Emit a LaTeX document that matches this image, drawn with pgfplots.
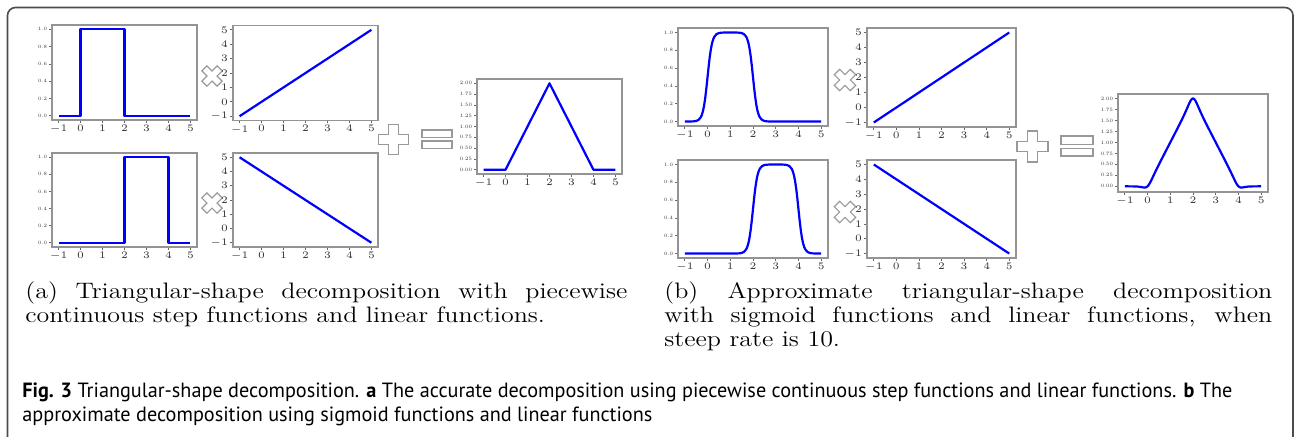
\documentclass[border=0pt]{standalone}
\usepackage{pgfplots}
\pgfplotsset{compat=1.18}
\usepackage{fontspec}
\usepackage{graphicx}
\newfontfamily\capfont{PT Sans}
\newsavebox\capA
\newsavebox\capB

\pgfplotsset{
  mini/.style={
    scale only axis, anchor=north west, no markers,
    axis line style={draw=black!42, line width=0.75pt},
    tick align=outside, xtick pos=left, ytick pos=left,
    major tick length=1.4pt,
    major tick style={draw=black!60, line width=0.35pt},
    tick label style={font=\fontsize{2.5}{3}\selectfont, text=black!80, inner sep=0.9pt},
    xmin=-1.3, xmax=5.3, xtick={-1,0,1,2,3,4,5},
  },
  stepy/.style={ymin=-0.05, ymax=1.05, ytick={0,0.2,0.4,0.6,0.8,1}, yticklabels={0.0,0.2,0.4,0.6,0.8,1.0}},
  liny/.style={ymin=-1.3, ymax=5.3, ytick={-1,0,1,2,3,4,5}},
  triy/.style={ytick={0,0.25,0.5,0.75,1,1.25,1.5,1.75,2}, yticklabels={0.00,0.25,0.50,0.75,1.00,1.25,1.50,1.75,2.00}},
}
\tikzset{
  pl/.style={blue, line width=1.1pt, line join=round},
  symb/.style={draw=black!40, line width=0.6pt, fill=white, line join=miter},
  pics/plussym/.style args={#1/#2}{code={
    \draw[symb] (#2,#1) -- (#2,#2) -- (#1,#2) -- (#1,-#2) -- (#2,-#2) -- (#2,-#1) -- (-#2,-#1) -- (-#2,-#2) -- (-#1,-#2) -- (-#1,#2) -- (-#2,#2) -- (-#2,#1) -- cycle;
  }},
}
\newcommand\subfont{\fontsize{13}{14.1}\selectfont\tolerance=10000\hbadness=10000\hyphenpenalty=10000\exhyphenpenalty=10000}

\begin{document}%
\sbox\capA{\capfont\fontsize{10.3}{12}\selectfont\textbf{Fig. 3} Triangular-shape decomposition. \textbf{a} The accurate decomposition using piecewise continuous step functions and linear functions. \textbf{b} The}%
\sbox\capB{\capfont\fontsize{10.3}{12}\selectfont approximate decomposition using sigmoid functions and linear functions}%
\pgfmathsetmacro\capfac{605/\the\wd\capA}%
\begin{tikzpicture}
\begin{scope}[x=0.5pt,y=-0.5pt]
\path[use as bounding box] (0,0) rectangle (1296,436);
\draw[black!70, line width=0.8pt, rounded corners=4pt] (7.5,437) -- (7.5,7.5) -- (1293,7.5) -- (1293,437);
% symbols panel a
\pic[rotate=45] at (212,76) {plussym=10.8/3.6};
\pic[rotate=45] at (212,203) {plussym=10.8/3.6};
\pic at (393.5,139.5) {plussym=15/4.8};
\draw[symb] (422,130) rectangle (452,137.3);
\draw[symb] (422,141) rectangle (452,148.5);
% symbols panel b
\pic[rotate=45] at (845,80) {plussym=11.3/3.8};
\pic[rotate=45] at (845,212) {plussym=11.3/3.8};
\pic at (1032.5,146.5) {plussym=15.5/5};
\draw[symb] (1061,136) rectangle (1093,144.3);
\draw[symb] (1061,148.3) rectangle (1093,156);
% subcaptions
\node[anchor=base west, inner sep=0] at (25,298) {\scalebox{1}[0.86]{\parbox[t]{301pt}{\subfont (a) Triangular-shape decomposition with piecewise\linebreak continuous step functions and linear functions.}}};
\node[anchor=base west, inner sep=0] at (664,298) {\scalebox{1}[0.86]{\parbox[t]{304pt}{\subfont (b) Approximate triangular-shape decomposition\linebreak with sigmoid functions and linear functions, when\linebreak steep rate is 10.}}};
% caption
\node[anchor=base west, inner sep=0, text=black!90] at (22,397) {\scalebox{\capfac}[1]{\usebox\capA}};
\node[anchor=base west, inner sep=0, text=black!90] at (22,421) {\scalebox{\capfac}[1]{\usebox\capB}};
\end{scope}

% ---- panel a ----
\begin{axis}[mini, stepy, at={(26pt,-12.5pt)}, width=72.5pt, height=47.5pt]
\addplot[pl] coordinates {(-1,0) (0,0) (0,1) (2,1) (2,0) (5,0)};
\end{axis}
\begin{axis}[mini, liny, at={(116.5pt,-12.75pt)}, width=72.5pt, height=47.5pt]
\addplot[pl] coordinates {(-1,-1) (5,5)};
\end{axis}
\begin{axis}[mini, stepy, at={(26pt,-76.5pt)}, width=72.5pt, height=47pt]
\addplot[pl] coordinates {(-1,0) (2,0) (2,1) (4,1) (4,0) (5,0)};
\end{axis}
\begin{axis}[mini, liny, at={(116.5pt,-76.5pt)}, width=72.5pt, height=47pt]
\addplot[pl] coordinates {(-1,5) (5,-1)};
\end{axis}
\begin{axis}[mini, triy, ymin=-0.1, ymax=2.1, at={(238.5pt,-39.5pt)}, width=72.5pt, height=47.5pt]
\addplot[pl] coordinates {(-1,0) (0,0) (2,2) (4,0) (5,0)};
\end{axis}

% ---- panel b ----
\begin{axis}[mini, stepy, at={(339pt,-14pt)}, width=75pt, height=49pt]
\addplot[pl] coordinates {(-1,0) (-0.8,0.0003) (-0.6,0.0025) (-0.5,0.0067) (-0.4,0.018) (-0.3,0.0474) (-0.25,0.0759) (-0.2,0.1192) (-0.15,0.1824) (-0.1,0.2689) (-0.05,0.3775) (0,0.5) (0.05,0.6225) (0.1,0.7311) (0.15,0.8176) (0.2,0.8808) (0.25,0.9241) (0.3,0.9526) (0.4,0.982) (0.5,0.9933) (0.6,0.9975) (0.8,0.9997) (1,0.9999) (1.2,0.9997) (1.4,0.9975) (1.5,0.9933) (1.6,0.982) (1.7,0.9526) (1.75,0.9241) (1.8,0.8808) (1.85,0.8176) (1.9,0.7311) (1.95,0.6225) (2,0.5) (2.05,0.3775) (2.1,0.2689) (2.15,0.1824) (2.2,0.1192) (2.25,0.0759) (2.3,0.0474) (2.4,0.018) (2.5,0.0067) (2.6,0.0025) (2.8,0.0003) (3,0) (5,0)};
\end{axis}
\begin{axis}[mini, liny, at={(433.5pt,-14pt)}, width=74.5pt, height=49.5pt]
\addplot[pl] coordinates {(-1,-1) (5,5)};
\end{axis}
\begin{axis}[mini, stepy, at={(339pt,-80pt)}, width=75pt, height=49pt]
\addplot[pl] coordinates {(-1,0) (1,0) (1.2,0.0003) (1.4,0.0025) (1.5,0.0067) (1.6,0.018) (1.7,0.0474) (1.75,0.0759) (1.8,0.1192) (1.85,0.1824) (1.9,0.2689) (1.95,0.3775) (2,0.5) (2.05,0.6225) (2.1,0.7311) (2.15,0.8176) (2.2,0.8808) (2.25,0.9241) (2.3,0.9526) (2.4,0.982) (2.5,0.9933) (2.6,0.9975) (2.8,0.9997) (3,0.9999) (3.2,0.9997) (3.4,0.9975) (3.5,0.9933) (3.6,0.982) (3.7,0.9526) (3.75,0.9241) (3.8,0.8808) (3.85,0.8176) (3.9,0.7311) (3.95,0.6225) (4,0.5) (4.05,0.3775) (4.1,0.2689) (4.15,0.1824) (4.2,0.1192) (4.25,0.0759) (4.3,0.0474) (4.4,0.018) (4.5,0.0067) (4.6,0.0025) (4.8,0.0003) (5,0)};
\end{axis}
\begin{axis}[mini, liny, at={(433.5pt,-80pt)}, width=74.5pt, height=49pt]
\addplot[pl] coordinates {(-1,5) (5,-1)};
\end{axis}
\begin{axis}[mini, triy, ymin=-0.129, ymax=2.101, at={(559pt,-47pt)}, width=75pt, height=49pt]
\addplot[pl] coordinates {(-1,0) (-0.8,-0.0003) (-0.6,-0.0015) (-0.5,-0.0033) (-0.4,-0.0072) (-0.3,-0.0142) (-0.25,-0.019) (-0.2,-0.0238) (-0.15,-0.0274) (-0.1,-0.0269) (-0.05,-0.0189) (0,0) (0.05,0.0311) (0.1,0.0731) (0.15,0.1226) (0.2,0.1762) (0.25,0.231) (0.3,0.2858) (0.4,0.3928) (0.5,0.4967) (0.6,0.5985) (0.8,0.7997) (1,1.0001) (1.2,1.2005) (1.4,1.403) (1.5,1.5067) (1.6,1.6144) (1.7,1.7285) (1.75,1.7879) (1.8,1.8477) (1.85,1.9047) (1.9,1.9538) (1.95,1.9878) (2,2) (2.05,1.9878) (2.1,1.9538) (2.15,1.9047) (2.2,1.8477) (2.25,1.7879) (2.3,1.7285) (2.4,1.6144) (2.5,1.5067) (2.6,1.403) (2.8,1.2005) (3,1.0001) (3.2,0.7997) (3.4,0.5985) (3.5,0.4967) (3.6,0.3928) (3.7,0.2858) (3.75,0.231) (3.8,0.1762) (3.85,0.1226) (3.9,0.0731) (3.95,0.0311) (4,0) (4.05,-0.0189) (4.1,-0.0269) (4.15,-0.0274) (4.2,-0.0238) (4.25,-0.019) (4.3,-0.0142) (4.4,-0.0072) (4.5,-0.0033) (4.6,-0.0015) (4.8,-0.0003) (5,0)};
\end{axis}
\end{tikzpicture}
\end{document}
